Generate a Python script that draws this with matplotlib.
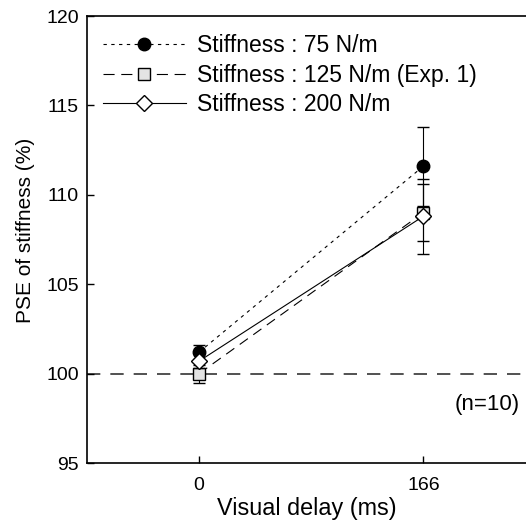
import matplotlib
matplotlib.use("Agg")
import matplotlib.pyplot as plt
from matplotlib.lines import Line2D

plt.rcParams['font.family'] = ['Liberation Sans', 'DejaVu Sans']

delay = [0, 166]
pse_75 = [101.2, 111.6]
err_75 = [0.4, 2.2]
pse_125 = [100.0, 109.0]
err_125 = [0.5, 1.6]
pse_200 = [100.7, 108.8]
err_200 = [0.4, 2.1]

labels = ['Stiffness : 75 N/m', 'Stiffness : 125 N/m (Exp. 1)', 'Stiffness : 200 N/m']

ls_75 = (0, (3, 4))
ls_125 = (0, (9, 6))

fig = plt.figure(figsize=(5.26, 5.20), dpi=100)
ax = fig.add_axes([0.1654, 0.1096, 0.8346, 0.8596])

ax.axhline(100, color='#333333', lw=1.2, ls=(0, (8, 6)), zorder=1)

ax.errorbar(delay, pse_75, yerr=err_75, color='black', lw=0.8, ls=ls_75,
            marker='o', ms=9, mfc='black', mec='black', capsize=4, elinewidth=0.8,
            zorder=3)
ax.errorbar(delay, pse_125, yerr=err_125, color='black', lw=0.8, ls=ls_125,
            marker='s', ms=8.5, mfc='#e4e4e4', mec='black', mew=1.0, capsize=4,
            elinewidth=0.8, zorder=3)
ax.errorbar(delay, pse_200, yerr=err_200, color='black', lw=0.8, ls='-',
            marker='D', ms=8, mfc='white', mec='black', mew=1.0, capsize=4,
            elinewidth=0.8, zorder=4)

ax.set_xlim(-83, 242)
ax.set_ylim(95, 120)
ax.set_xticks(delay)
ax.set_yticks([95, 100, 105, 110, 115, 120])
ax.tick_params(direction='in', length=5, width=1, labelsize=14)
ax.tick_params(axis='y', pad=6)
ax.tick_params(axis='x', pad=10)
ax.spines['right'].set_visible(False)
for s in ['left', 'bottom', 'top']:
    ax.spines[s].set_linewidth(1.2)

ax.set_xlabel('Visual delay (ms)', fontsize=16.8, labelpad=2)
ax.set_ylabel('PSE of stiffness (%)', fontsize=15)
ax.yaxis.set_label_coords(-0.118, 0.521)

ax.text(0.985, 0.13, '(n=10)', transform=ax.transAxes, fontsize=16,
        ha='right', va='center')

handles = [
    Line2D([], [], color='black', lw=0.8, ls=ls_75, marker='o', ms=9,
           mfc='black', mec='black'),
    Line2D([], [], color='black', lw=0.8, ls=(0, (10, 6)), marker='s', ms=8.5,
           mfc='#e4e4e4', mec='black'),
    Line2D([], [], color='black', lw=0.8, ls='-', marker='D', ms=8,
           mfc='white', mec='black'),
]
leg = ax.legend(handles, labels, loc='upper left', frameon=False, fontsize=16.5,
                handlelength=3.6, handletextpad=0.5, labelspacing=0.3,
                borderaxespad=0.0, bbox_to_anchor=(0.016, 0.981))

fig.savefig('out.png', dpi=100)
